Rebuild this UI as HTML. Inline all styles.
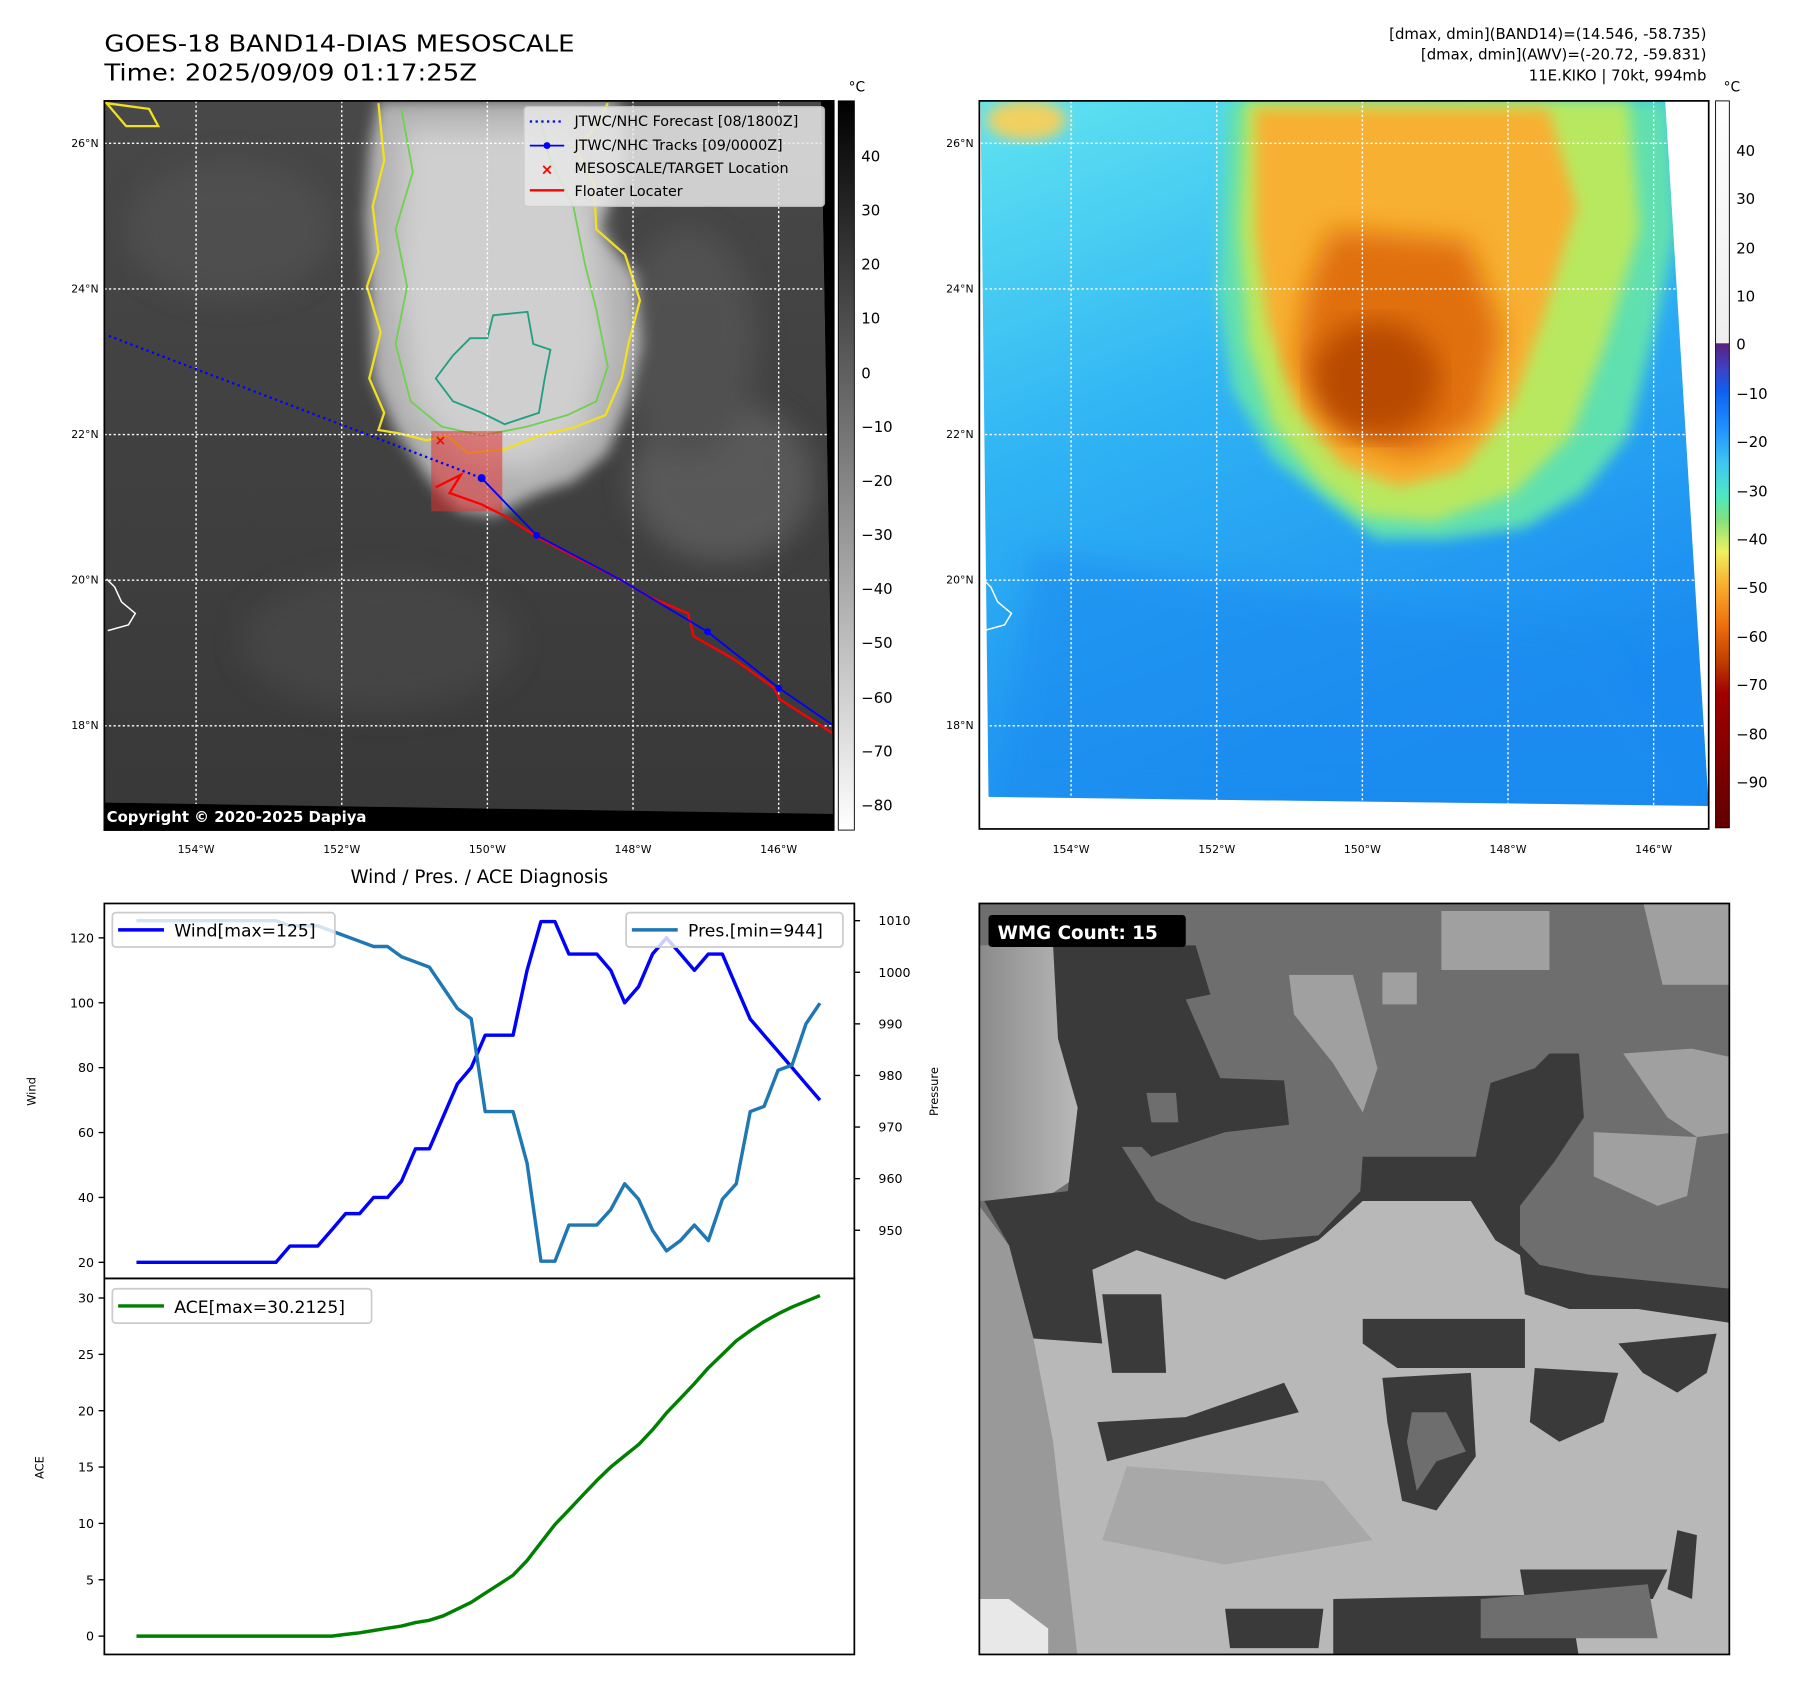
<!DOCTYPE html>
<html><head><meta charset="utf-8"><style>
html,body{margin:0;padding:0;background:#fff;}
svg{display:block;font-family:"DejaVu Sans","Liberation Sans",sans-serif;}
</style></head><body>
<svg id="fig" width="1797" height="1690" viewBox="0 0 1567 1474" preserveAspectRatio="none" xmlns="http://www.w3.org/2000/svg">
<defs>
<filter id="blur6"><feGaussianBlur stdDeviation="6"/></filter>
<filter id="blur12"><feGaussianBlur stdDeviation="12"/></filter>
<filter id="blur3"><feGaussianBlur stdDeviation="3"/></filter>
<clipPath id="clipL"><polygon points="91,88 716,88 727,700 727,724 91,724"/></clipPath>
<clipPath id="clipR"><polygon points="855,88 1452,88 1490,703 862,695"/></clipPath>
<clipPath id="clipW"><rect x="854" y="788" width="654" height="655"/></clipPath>
<linearGradient id="cbL" x1="0" y1="0" x2="0" y2="1"><stop offset="0" stop-color="#000"/><stop offset="1" stop-color="#fff"/></linearGradient>
<linearGradient id="cbR" x1="0" y1="0" x2="0" y2="1">
<stop offset="0" stop-color="#fff"/><stop offset="0.333" stop-color="#eee"/>
<stop offset="0.334" stop-color="#5a2080"/><stop offset="0.367" stop-color="#4040c0"/>
<stop offset="0.40" stop-color="#1060f0"/><stop offset="0.45" stop-color="#2090ff"/>
<stop offset="0.50" stop-color="#40c8f0"/><stop offset="0.545" stop-color="#50e8c0"/>
<stop offset="0.575" stop-color="#80e080"/><stop offset="0.62" stop-color="#f0f060"/>
<stop offset="0.665" stop-color="#f8b030"/><stop offset="0.72" stop-color="#f07010"/>
<stop offset="0.77" stop-color="#c04000"/><stop offset="0.815" stop-color="#a00000"/>
<stop offset="1" stop-color="#600000"/></linearGradient>
<linearGradient id="bgR" x1="0" y1="0" x2="0.4" y2="1"><stop offset="0" stop-color="#60e4f0"/><stop offset="0.45" stop-color="#30b4f4"/><stop offset="1" stop-color="#1a8af0"/></linearGradient>
<linearGradient id="bgL" x1="0" y1="0" x2="0" y2="1"><stop offset="0" stop-color="#484848"/><stop offset="1" stop-color="#383838"/></linearGradient>
<linearGradient id="wmgL" x1="0" y1="0" x2="1" y2="0"><stop offset="0" stop-color="#8a8a8a"/><stop offset="1" stop-color="#c0c0c0"/></linearGradient>
</defs>

<!-- Titles -->
<text x="91" y="45" font-size="20.5" textLength="410" lengthAdjust="spacingAndGlyphs">GOES-18 BAND14-DIAS MESOSCALE</text>
<text x="91" y="70" font-size="20.5" textLength="325" lengthAdjust="spacingAndGlyphs">Time: 2025/09/09 01:17:25Z</text>
<g font-size="13" text-anchor="end">
<text x="1488" y="34">[dmax, dmin](BAND14)=(14.546, -58.735)</text>
<text x="1488" y="52">[dmax, dmin](AWV)=(-20.72, -59.831)</text>
<text x="1488" y="70">11E.KIKO | 70kt, 994mb</text>
</g>

<!-- Left map -->
<g>
<rect x="91" y="88" width="636" height="636" fill="#000"/>
<g clip-path="url(#clipL)">
<rect x="91" y="88" width="636" height="636" fill="url(#bgL)"/>
<g filter="url(#blur12)" opacity="0.6">
<ellipse cx="200" cy="200" rx="90" ry="60" fill="#555"/>
<ellipse cx="630" cy="420" rx="80" ry="70" fill="#6a6a6a"/>
<ellipse cx="600" cy="300" rx="60" ry="100" fill="#5a5a5a"/>
<ellipse cx="330" cy="560" rx="120" ry="60" fill="#4c4c4c"/>
</g>
<path filter="url(#blur6)" fill="#b0b0b0" d="M330,88 L540,88 L545,150 L520,200 L555,240 L560,300 L548,350 L530,395 L500,420 L470,430 L430,450 L400,445 L375,420 L345,375 L325,330 L322,260 L318,190 L322,130 Z"/>
<path filter="url(#blur12)" fill="#cfcfcf" d="M350,110 L500,110 L520,200 L530,300 L510,380 L460,410 L400,400 L360,350 L345,250 Z"/>
<g fill="none" stroke="#f0e020" stroke-width="2">
<path d="M330,90 L335,140 L325,180 L330,220 L320,250 L332,290 L322,330 L335,360 L330,375 L348,378 L372,384 L390,380 L408,395 L440,392 L470,380 L500,373 L528,362 L542,330 L548,300 L558,262 L545,222 L520,200 L518,160 L502,130 L520,110 L530,90"/>
<path d="M93,90 L130,95 L138,110 L110,110 Z"/>
</g>
<g fill="none" stroke="#70d050" stroke-width="1.6">
<path d="M350,95 L360,150 L345,200 L355,250 L345,300 L358,350 L385,372 L420,380 L460,372 L495,362 L520,350 L530,320 L520,270 L510,230 L500,180 L480,140 L470,100"/>
</g>
<path fill="none" stroke="#20a080" stroke-width="1.6" d="M430,275 L460,272 L465,300 L480,305 L475,330 L470,360 L440,370 L420,360 L395,350 L380,330 L395,310 L410,295 L425,295 Z"/>
<g stroke="#fff" stroke-width="1.2" stroke-dasharray="2,2">
<line x1="91" y1="125" x2="727" y2="125"/><line x1="91" y1="252" x2="727" y2="252"/><line x1="91" y1="379" x2="727" y2="379"/><line x1="91" y1="506" x2="727" y2="506"/><line x1="91" y1="633" x2="727" y2="633"/>
<line x1="171" y1="88" x2="171" y2="724"/><line x1="298" y1="88" x2="298" y2="724"/><line x1="425" y1="88" x2="425" y2="724"/><line x1="552" y1="88" x2="552" y2="724"/><line x1="679" y1="88" x2="679" y2="724"/>
</g>
<path d="M93,505 L100,512 L106,525 L118,535 L112,545 L94,550" fill="none" stroke="#fff" stroke-width="1.3"/>
<rect x="376" y="376" width="62" height="70" fill="#e03030" opacity="0.55"/>
<line x1="95" y1="293" x2="420" y2="417" stroke="#0000ff" stroke-width="2" stroke-dasharray="2,3"/>
<polyline points="380,425 402,414 392,430 420,440 440,450 468,468 500,485 540,505 565,520 600,535 605,555 640,575 675,600 680,610 727,640" fill="none" stroke="#ff0000" stroke-width="2"/>
<polyline points="420,417 468,467 540,505 617,551 679,600 727,633" fill="none" stroke="#0000ff" stroke-width="1.6"/>
<g fill="#0000ff"><circle cx="420" cy="417" r="3.5"/><circle cx="468" cy="467" r="3"/><circle cx="617" cy="551" r="3"/><circle cx="679" cy="600" r="3"/></g>
<text x="384" y="388" font-size="12" fill="#ff0000" font-weight="bold" text-anchor="middle">×</text>
</g>
<polygon points="716,88 727,88 727,724 91,724 91,700 727,710" fill="#000"/>
<text x="93" y="717" font-size="13" font-weight="bold" fill="#fff">Copyright © 2020-2025 Dapiya</text>
<rect x="91" y="88" width="636" height="636" fill="none" stroke="#000" stroke-width="1.5"/>
</g>
<g>
<rect x="457" y="93" width="262" height="87" rx="3" fill="#e8e8e8" opacity="0.85" stroke="#ccc"/>
<line x1="462" y1="106" x2="492" y2="106" stroke="#0000ff" stroke-width="2" stroke-dasharray="2,3"/>
<line x1="462" y1="127" x2="492" y2="127" stroke="#0000ff" stroke-width="1.6"/><circle cx="477" cy="127" r="3" fill="#0000ff"/>
<text x="477" y="152" font-size="13" fill="#ff0000" font-weight="bold" text-anchor="middle">×</text>
<line x1="462" y1="166" x2="492" y2="166" stroke="#ff0000" stroke-width="2"/>
<g font-size="12.5" fill="#000">
<text x="501" y="110">JTWC/NHC Forecast [08/1800Z]</text>
<text x="501" y="131">JTWC/NHC Tracks [09/0000Z]</text>
<text x="501" y="151">MESOSCALE/TARGET Location</text>
<text x="501" y="171">Floater Locater</text>
</g>
</g>
<g font-size="9.5" fill="#000">
<g text-anchor="end"><text x="86" y="128">26°N</text><text x="86" y="255">24°N</text><text x="86" y="382">22°N</text><text x="86" y="509">20°N</text><text x="86" y="636">18°N</text></g>
<g text-anchor="middle"><text x="171" y="744">154°W</text><text x="298" y="744">152°W</text><text x="425" y="744">150°W</text><text x="552" y="744">148°W</text><text x="679" y="744">146°W</text></g>
</g>
<g>
<rect x="731" y="88" width="14" height="636" fill="url(#cbL)" stroke="#000" stroke-width="0.8"/>
<text x="740" y="80" font-size="12">°C</text>
<g font-size="13" fill="#000">
<text x="751" y="141">40</text><text x="751" y="188">30</text><text x="751" y="235">20</text><text x="751" y="282">10</text><text x="751" y="330">0</text>
<text x="751" y="377">−10</text><text x="751" y="424">−20</text><text x="751" y="471">−30</text><text x="751" y="518">−40</text><text x="751" y="565">−50</text><text x="751" y="613">−60</text><text x="751" y="660">−70</text><text x="751" y="707">−80</text>
</g></g>

<!-- Right map -->
<g>
<g clip-path="url(#clipR)">
<rect x="855" y="88" width="640" height="620" fill="url(#bgR)"/>
<ellipse cx="895" cy="105" rx="35" ry="18" fill="#f0d060" filter="url(#blur6)"/>
<path filter="url(#blur6)" fill="#60e0b0" d="M1070,88 L1455,88 L1462,200 L1440,300 L1420,380 L1380,430 L1330,460 L1260,470 L1200,470 L1160,440 L1110,400 L1075,340 L1062,260 L1065,180 Z"/>
<path filter="url(#blur6)" fill="#b8e860" d="M1085,88 L1420,88 L1430,200 L1400,300 L1370,380 L1320,430 L1250,455 L1190,450 L1150,420 L1110,370 L1088,300 L1080,200 Z"/>
<path filter="url(#blur6)" fill="#f8b030" d="M1095,95 L1350,95 L1375,180 L1345,280 L1320,350 L1275,410 L1220,425 L1170,405 L1130,355 L1105,280 L1095,200 Z"/>
<path filter="url(#blur12)" fill="#e07010" d="M1160,200 L1280,210 L1310,290 L1290,370 L1230,400 L1170,380 L1130,320 L1140,250 Z"/>
<ellipse cx="1200" cy="330" rx="55" ry="50" fill="#b84800" filter="url(#blur12)"/>
<path filter="url(#blur12)" fill="#1e8cf0" opacity="0.6" d="M900,480 L1400,560 L1480,700 L870,700 Z"/>
<g stroke="#fff" stroke-width="1.2" stroke-dasharray="2,2">
<line x1="855" y1="125" x2="1495" y2="125"/><line x1="855" y1="252" x2="1495" y2="252"/><line x1="855" y1="379" x2="1495" y2="379"/><line x1="855" y1="506" x2="1495" y2="506"/><line x1="855" y1="633" x2="1495" y2="633"/>
<line x1="934" y1="88" x2="934" y2="724"/><line x1="1061" y1="88" x2="1061" y2="724"/><line x1="1188" y1="88" x2="1188" y2="724"/><line x1="1315" y1="88" x2="1315" y2="724"/><line x1="1442" y1="88" x2="1442" y2="724"/>
</g>
<path d="M857,505 L864,512 L870,525 L882,535 L876,545 L858,550" fill="none" stroke="#fff" stroke-width="1.3"/>
</g>
<rect x="854" y="88" width="636" height="635" fill="none" stroke="#000" stroke-width="1.5"/>
</g>
<g font-size="9.5" fill="#000">
<g text-anchor="end"><text x="849" y="128">26°N</text><text x="849" y="255">24°N</text><text x="849" y="382">22°N</text><text x="849" y="509">20°N</text><text x="849" y="636">18°N</text></g>
<g text-anchor="middle"><text x="934" y="744">154°W</text><text x="1061" y="744">152°W</text><text x="1188" y="744">150°W</text><text x="1315" y="744">148°W</text><text x="1442" y="744">146°W</text></g>
</g>
<g>
<rect x="1496" y="88" width="12" height="634" fill="url(#cbR)" stroke="#000" stroke-width="0.8"/>
<text x="1503" y="80" font-size="12">°C</text>
<g font-size="13" fill="#000">
<text x="1514" y="136">40</text><text x="1514" y="178">30</text><text x="1514" y="221">20</text><text x="1514" y="263">10</text><text x="1514" y="305">0</text>
<text x="1514" y="348">−10</text><text x="1514" y="390">−20</text><text x="1514" y="433">−30</text><text x="1514" y="475">−40</text><text x="1514" y="517">−50</text><text x="1514" y="560">−60</text><text x="1514" y="602">−70</text><text x="1514" y="645">−80</text><text x="1514" y="687">−90</text>
</g></g>

<!-- WMG panel -->
<g>
<g clip-path="url(#clipW)">
<rect x="854" y="788" width="654" height="655" fill="#6e6e6e"/>
<g transform="translate(854,786) scale(0.4286)">
<polygon fill="#a0a0a0" points="940,20 1160,20 1160,140 940,140"/>
<polygon fill="#a0a0a0" points="630,150 760,150 810,340 780,430 720,330 640,230"/>
<rect x="820" y="145" width="70" height="65" fill="#a0a0a0"/>
<polygon fill="#a0a0a0" points="1350,0 1541,0 1541,170 1390,170"/>
<polygon fill="#a0a0a0" points="1310,310 1450,300 1541,320 1541,470 1460,480 1400,440"/>
<polygon fill="#a0a0a0" points="1250,470 1460,480 1440,600 1380,620 1250,560"/>
<polygon fill="url(#wmgL)" points="0,90 150,90 230,330 200,560 140,600 0,610"/>
<polygon fill="#3a3a3a" points="150,90 440,90 470,190 420,200 490,360 620,365 630,455 500,470 350,520 330,500 290,500 360,610 430,650 570,690 690,680 775,590 780,520 1010,520 1040,370 1130,340 1160,310 1220,310 1230,440 1170,530 1100,620 1100,700 1140,740 1240,760 1541,790 1541,860 1300,900 1100,880 830,850 780,870 700,900 500,860 300,920 110,890 60,700 10,610 180,590 200,420 160,280"/>
<polygon fill="#6e6e6e" points="340,390 400,390 405,450 350,450"/>
<polygon fill="#b8b8b8" points="0,700 60,700 110,890 250,900 230,750 320,710 500,770 690,690 780,610 1000,610 1050,690 1100,720 1110,800 1200,830 1340,830 1541,860 1541,1540 0,1540"/>
<polygon fill="#999" points="0,620 60,700 110,890 150,1100 200,1540 0,1540"/>
<polygon fill="#a8a8a8" points="300,1150 700,1180 800,1300 500,1350 250,1300"/>
<polygon fill="#3a3a3a" points="780,850 1110,850 1110,950 850,950 780,900"/>
<polygon fill="#3a3a3a" points="820,970 1000,960 1010,1130 930,1240 860,1220 830,1060"/>
<polygon fill="#6e6e6e" points="880,1040 950,1040 990,1120 930,1140 890,1200 870,1100"/>
<polygon fill="#3a3a3a" points="1130,950 1300,960 1270,1060 1180,1100 1120,1060"/>
<polygon fill="#3a3a3a" points="240,1060 420,1050 620,980 650,1040 450,1090 260,1140"/>
<polygon fill="#3a3a3a" points="250,800 370,800 380,960 270,960"/>
<polygon fill="#3a3a3a" points="1300,900 1500,880 1480,960 1420,1000 1350,960"/>
<polygon fill="#3a3a3a" points="1420,1280 1460,1290 1450,1420 1400,1400"/>
<polygon fill="#3a3a3a" points="1100,1360 1400,1360 1370,1420 1110,1420"/>
<polygon fill="#3a3a3a" points="720,1420 1200,1410 1220,1540 720,1540"/>
<polygon fill="#6e6e6e" points="1020,1420 1360,1390 1380,1500 1020,1500"/>
<polygon fill="#3a3a3a" points="500,1440 700,1440 690,1520 510,1520"/>
<polygon fill="#e8e8e8" points="0,1420 60,1420 140,1480 140,1540 0,1540"/>
</g>
</g>
<rect x="854" y="788" width="654" height="655" fill="none" stroke="#000" stroke-width="1.5"/>
<rect x="862" y="798" width="172" height="28" rx="3" fill="#000"/>
<text x="870" y="819" font-size="16" font-weight="bold" fill="#fff">WMG Count: 15</text>
</g>

<!-- Charts -->
<text x="418" y="770" font-size="16" text-anchor="middle">Wind / Pres. / ACE Diagnosis</text>
<g id="windAxes"></g>
<g id="aceAxes"></g>
</svg>
<script>
const windVals = [20,20,20,20,20,20,20,20,20,20,20,25,25,25,30,35,35,40,40,45,55,55,65,75,80,90,90,90,110,125,125,115,115,115,110,100,105,115,120,115,110,115,115,105,95,90,85,80,75,70];
const presVals = [1010,1010,1010,1010,1010,1010,1010,1010,1010,1010,1010,1009,1009,1009,1008,1007,1006,1005,1005,1003,1002,1001,997,993,991,973,973,973,963,944,944,951,951,951,954,959,956,950,946,948,951,948,956,959,973,974,981,982,990,994];
const aceVals = [0,0,0,0,0,0,0,0,0,0,0,0,0,0,0,0.15,0.3,0.5,0.7,0.9,1.2,1.4,1.8,2.4,3.0,3.8,4.6,5.4,6.7,8.3,9.9,11.2,12.5,13.8,15.0,16.0,17.0,18.3,19.8,21.1,22.4,23.8,25.0,26.2,27.1,27.9,28.6,29.2,29.7,30.2125];
const windTicks = [20,40,60,80,100,120];
const presTicks = [950,960,970,980,990,1000,1010];
const aceTicks = [0,5,10,15,20,25,30];

const NS='http://www.w3.org/2000/svg';
function mk(tag, attrs, parent){const e=document.createElementNS(NS,tag);for(const k in attrs)e.setAttribute(k,attrs[k]);parent.appendChild(e);return e;}
const n = windVals.length;
const xS = i => 119 + i*(596/(n-1));
const yW = v => 1101 - (v-20)*2.83;
const yP = v => 803 + (1010-v)*4.5;
const yA = v => 1427 - v*9.83;

const wg = document.getElementById('windAxes');
const ag = document.getElementById('aceAxes');

function pts(arr, yf){return arr.map((v,i)=>xS(i).toFixed(1)+','+yf(v).toFixed(1)).join(' ');}

const wf = mk('rect',{x:91,y:788,width:654,height:327,fill:'none',stroke:'#000','stroke-width':1.5},wg);


windTicks.forEach(v=>{
  const y=yW(v);
  mk('line',{x1:86,y1:y,x2:91,y2:y,stroke:'#000','stroke-width':1.2},wg);
  const t=mk('text',{x:82,y:y+4,'font-size':11,'text-anchor':'end'},wg);t.textContent=v;
  
  
});
presTicks.forEach(v=>{
  const y=yP(v);
  mk('line',{x1:745,y1:y,x2:750,y2:y,stroke:'#000','stroke-width':1.2},wg);
  const t=mk('text',{x:766,y:y+4,'font-size':11},wg);t.textContent=v;
  
  
});
const wl=mk('text',{x:31,y:952,'font-size':10,'text-anchor':'middle',transform:'rotate(-90 31 952)'},wg);wl.textContent='Wind';


const pl=mk('text',{x:818,y:952,'font-size':10,'text-anchor':'middle',transform:'rotate(-90 818 952)'},wg);pl.textContent='Pressure';



const wline=mk('polyline',{points:pts(windVals,yW),fill:'none',stroke:'#0000ff','stroke-width':3,'stroke-linejoin':'round'},wg);


const pline=mk('polyline',{points:pts(presVals,yP),fill:'none',stroke:'#1f77b4','stroke-width':3,'stroke-linejoin':'round'},wg);



const lw=mk('g',{},wg);


mk('rect',{x:98,y:796,width:194,height:30,rx:3,fill:'#fff','fill-opacity':0.8,stroke:'#ccc','stroke-width':1.5},lw);
mk('line',{x1:103,y1:811,x2:143,y2:811,stroke:'#0000ff','stroke-width':3},lw);
const lwt=mk('text',{x:152,y:817,'font-size':15},lw);lwt.textContent='Wind[max=125]';
const lp=mk('g',{},wg);


mk('rect',{x:546,y:796,width:189,height:30,rx:3,fill:'#fff','fill-opacity':0.8,stroke:'#ccc','stroke-width':1.5},lp);
mk('line',{x1:551,y1:811,x2:591,y2:811,stroke:'#1f77b4','stroke-width':3},lp);
const lpt=mk('text',{x:600,y:817,'font-size':15},lp);lpt.textContent='Pres.[min=944]';

const af=mk('rect',{x:91,y:1115,width:654,height:328,fill:'none',stroke:'#000','stroke-width':1.5},ag);


aceTicks.forEach(v=>{
  const y=yA(v);
  mk('line',{x1:86,y1:y,x2:91,y2:y,stroke:'#000','stroke-width':1.2},ag);
  const t=mk('text',{x:82,y:y+4,'font-size':11,'text-anchor':'end'},ag);t.textContent=v;
  
  
});
const al=mk('text',{x:38,y:1280,'font-size':10,'text-anchor':'middle',transform:'rotate(-90 38 1280)'},ag);al.textContent='ACE';


const aline=mk('polyline',{points:pts(aceVals,yA),fill:'none',stroke:'#008000','stroke-width':3,'stroke-linejoin':'round'},ag);


const la=mk('g',{},ag);


mk('rect',{x:98,y:1124,width:226,height:30,rx:3,fill:'#fff','fill-opacity':0.8,stroke:'#ccc','stroke-width':1.5},la);
mk('line',{x1:103,y1:1139,x2:143,y2:1139,stroke:'#008000','stroke-width':3},la);
const lat=mk('text',{x:152,y:1145,'font-size':15},la);lat.textContent='ACE[max=30.2125]';
</script>
</body></html>
